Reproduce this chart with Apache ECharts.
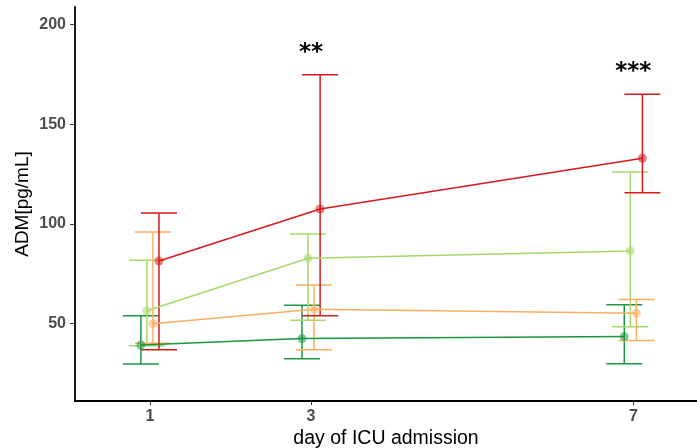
<!DOCTYPE html>
<html><head><meta charset="utf-8">
<script src="https://cdn.jsdelivr.net/npm/echarts@6/dist/echarts.min.js"></script>
<style>html,body{margin:0;padding:0;background:#fff}#c{width:697px;height:448px}</style>
</head><body><div id="c"></div>
<script>
const days = [1, 3, 7];
const groupNames = ['G1', 'G2', 'G3', 'G4'];
const groupColors = ['#1a9641', '#a6d96a', '#fdae61', '#d7191c'];
const dodge = [-0.1125, -0.0375, 0.0375, 0.1125];
// means per group (dark green, light green, orange, red)
const meanDarkGreen = [39.1, 42.3, 43.3];
const meanLightGreen = [56.3, 82.7, 86.3];
const meanOrange = [49.8, 57.0, 55.0];
const meanRed = [81.3, 107.4, 132.9];
const lowDarkGreen = [29.5, 32.2, 29.7];
const highDarkGreen = [53.8, 59.0, 59.3];
const lowLightGreen = [38.7, 51.5, 48.3];
const highLightGreen = [81.7, 94.9, 126.0];
const lowOrange = [40.0, 36.7, 41.3];
const highOrange = [95.9, 69.2, 61.9];
const lowRed = [36.7, 53.8, 115.6];
const highRed = [105.4, 174.9, 165.1];
const sigDays = [3, 7];
const sigLabels = ['**', '***'];
const sigY = [186, 176];
const yTicks = [50, 100, 150, 200];

const means = [meanDarkGreen, meanLightGreen, meanOrange, meanRed];
const lows = [lowDarkGreen, lowLightGreen, lowOrange, lowRed];
const highs = [highDarkGreen, highLightGreen, highOrange, highRed];

const series = [];
for (let g = 0; g < 4; g++) {
  const col = groupColors[g];
  series.push({
    type: 'custom', name: groupNames[g] + 'err', silent: true,
    data: days.map((d, i) => [d + dodge[g], lows[g][i], highs[g][i]]),
    renderItem: function (params, api) {
      const x = api.value(0);
      const lo = api.coord([x, api.value(1)]);
      const hi = api.coord([x, api.value(2)]);
      const hw = 18;
      const st = { stroke: col, lineWidth: 1.5 };
      return { type: 'group', children: [
        { type: 'line', shape: { x1: lo[0], y1: lo[1], x2: hi[0], y2: hi[1] }, style: st },
        { type: 'line', shape: { x1: lo[0] - hw, y1: lo[1], x2: lo[0] + hw, y2: lo[1] }, style: st },
        { type: 'line', shape: { x1: hi[0] - hw, y1: hi[1], x2: hi[0] + hw, y2: hi[1] }, style: st }
      ]};
    },
    z: 2
  });
  series.push({
    type: 'line', name: groupNames[g], silent: true,
    data: days.map((d, i) => [d + dodge[g], means[g][i]]),
    symbol: 'circle', symbolSize: 9,
    lineStyle: { color: col, width: 1.5 },
    itemStyle: { color: col, opacity: 0.55 },
    z: 3
  });
}
series.push({
  type: 'custom', silent: true,
  data: sigDays.map((d, i) => [d, sigY[i]]),
  renderItem: function (params, api) {
    const p = api.coord([api.value(0), api.value(1)]);
    return { type: 'text', x: p[0], y: p[1], style: {
      text: sigLabels[params.dataIndex], fill: '#000', font: 'bold 23px "DejaVu Sans", sans-serif',
      align: 'center', verticalAlign: 'middle' } };
  },
  z: 5
});

const chart = echarts.init(document.getElementById('c'), null, { renderer: 'canvas' });
chart.setOption({
  animation: false,
  backgroundColor: '#fff',
  grid: { left: 75, right: 0, top: 7, bottom: 47, containLabel: false, outerBoundsMode: 'none' },
  xAxis: {
    type: 'value', min: 0.07, max: 7.79,
    name: 'day of ICU admission', nameLocation: 'middle', nameGap: 28, nameMoveOverlap: false,
    nameTextStyle: { color: '#000', fontSize: 19.5, fontFamily: 'Liberation Sans, Arial, sans-serif' },
    axisLine: { show: true, lineStyle: { color: '#000', width: 1.8 } },
    axisTick: { show: true, customValues: days, length: 4, lineStyle: { color: '#333' } },
    axisLabel: { customValues: days, color: '#4d4d4d', fontSize: 16, fontWeight: 'bold', margin: 8,
      fontFamily: 'Liberation Sans, Arial, sans-serif' },
    splitLine: { show: false }
  },
  yAxis: {
    type: 'value', min: 10.95, max: 208.9,
    name: 'ADM[pg/mL]', nameLocation: 'middle', nameGap: 43, nameRotate: 90, nameMoveOverlap: false,
    nameTextStyle: { color: '#000', fontSize: 19, fontFamily: 'Liberation Sans, Arial, sans-serif' },
    axisLine: { show: true, lineStyle: { color: '#000', width: 1.8 } },
    axisTick: { show: true, customValues: yTicks, length: 5, lineStyle: { color: '#333' } },
    axisLabel: { customValues: yTicks, color: '#4d4d4d', fontSize: 16, fontWeight: 'bold', margin: 9,
      fontFamily: 'Liberation Sans, Arial, sans-serif' },
    splitLine: { show: false }
  },
  series: series
});
</script></body></html>
